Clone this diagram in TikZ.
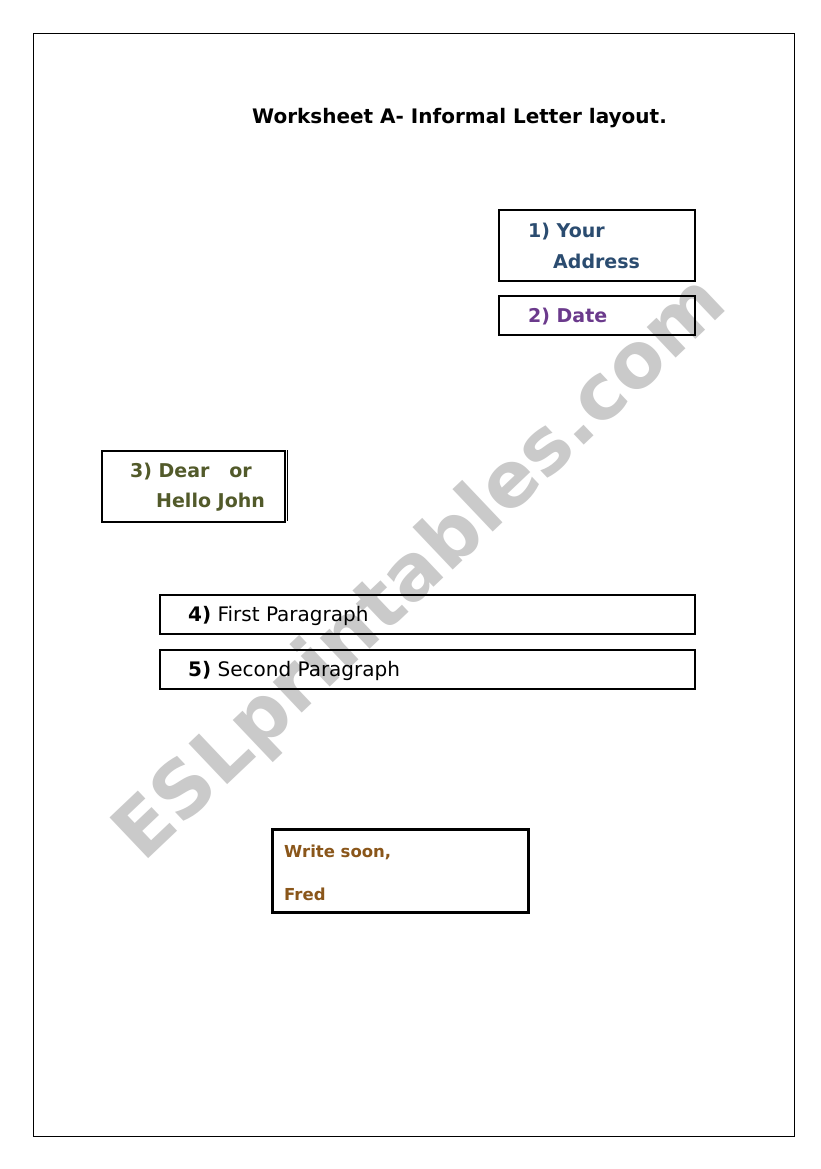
\documentclass[tikz,border=0pt]{standalone}
\usepackage{fontspec}
\setmainfont{DejaVu Sans}
\usepackage{xcolor}
\usepackage{tikz}
\definecolor{addrblue}{HTML}{2B4C70}
\definecolor{dateviolet}{HTML}{6B3A8C}
\definecolor{dearolive}{HTML}{525A2A}
\definecolor{fredbrown}{HTML}{8A561A}
\definecolor{markgray}{HTML}{CACACA}
\tikzstyle{box} = [draw, rectangle, line width=1.6pt, inner sep=0pt, anchor=north west]
\tikzstyle{boxtext} = [anchor=base west, inner sep=0pt, font=\bfseries\fontsize{19}{23}\selectfont]
\tikzstyle{plaintext} = [anchor=base west, inner sep=0pt, font=\fontsize{20}{24}\selectfont]

\begin{document}
\begin{tikzpicture}
            [x=1pt,y=-1pt]
              \useasboundingbox (0,0) rectangle (821,1169);
              \fill [white] (0,0) rectangle (821,1169);
              % watermark
              \node [markgray, rotate=43.5, inner sep=0pt, font=\bfseries\fontsize{77}{77}\selectfont](mark) at (422, 570) {ESLprintables.com};
              \draw [line width=0.8pt] (33,33) rectangle (794,1136);

              \node [boxtext, font=\bfseries\fontsize{20}{24}\selectfont](title) at (252, 124) {Worksheet A- Informal Letter layout.};

              \node [box, minimum width=196pt, minimum height=71pt](addrbox) at (498, 209) {};
              \node [box, minimum width=196pt, minimum height=39pt](datebox) at (498, 295) {};
              \node [box, minimum width=183pt, minimum height=71pt](dearbox) at (101, 450) {};
              \node [box, minimum width=535pt, minimum height=39pt](firstbox) at (159, 594) {};
              \node [box, minimum width=535pt, minimum height=39pt](secondbox) at (159, 649) {};
              \node [box, line width=2.6pt, minimum width=256pt, minimum height=83pt](fredbox) at (271, 828) {};
              \draw [line width=0.6pt] (dearbox.north east) ++(2,0) -- ++(0,71);

              \node [boxtext, addrblue](addr1) at (528, 237) {1) Your};
              \node [boxtext, addrblue](addr2) at (553, 268) {Address};
              \node [boxtext, dateviolet](date) at (528, 322) {2) Date};
              \node [boxtext, dearolive](dear1) at (130, 477) {3) Dear\ \ \ or};
              \node [boxtext, dearolive](dear2) at (156, 507) {Hello John};
              \node [plaintext](first) at (188, 621) {\textbf{4)} First Paragraph};
              \node [plaintext](second) at (188, 676) {\textbf{5)} Second Paragraph};
              \node [boxtext, fredbrown, font=\bfseries\fontsize{16.5}{20}\selectfont](write) at (284, 857) {Write soon,};
              \node [boxtext, fredbrown, font=\bfseries\fontsize{16.5}{20}\selectfont](fred) at (284, 900) {Fred};
            \end{tikzpicture}
\end{document}
